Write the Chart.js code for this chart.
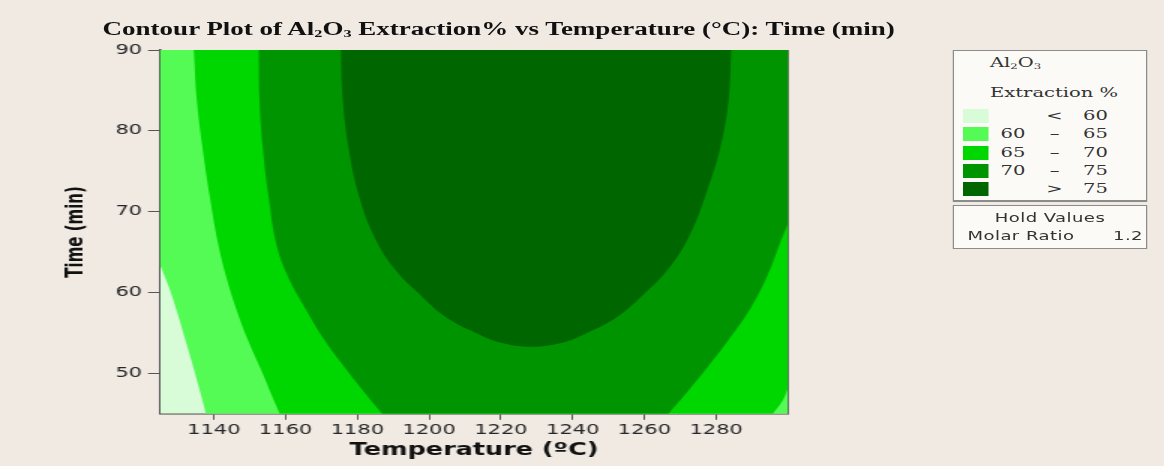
<!DOCTYPE html>
<html lang="en">
<head>
<meta charset="UTF-8" />
<title>Contour Plot of Al2O3 Extraction% vs Temperature</title>
<script src="https://cdn.jsdelivr.net/npm/chart.js"></script>
<style>
	html, body { margin: 0; padding: 0; background: #f0eae3; }
	body { width: 1164px; height: 466px; overflow: hidden; position: relative; }
	/* the source picture is stretched sideways, so draw narrow and widen it */
	#stage {
		position: absolute; left: 0; top: 0;
		width: 776px; height: 466px;
		transform: scaleX(1.5); transform-origin: 0 0;
	}
	#plot { position: absolute; left: 0; top: 0; width: 776px; height: 466px; }
	#title {
		position: absolute; left: 32px; top: 19px; width: 601px;
		text-align: center; white-space: nowrap;
		font: bold 18px "Liberation Serif", serif; line-height: 20px; color: #111;
	}
	sub { font-size: 60%; line-height: 0; vertical-align: -2px; }
	.box {
		position: absolute; left: 635px; width: 130px; box-sizing: border-box;
		background: #fbfaf7; border: 1px solid #8c8c8c; color: #333;
	}
	.box div, .box span { position: absolute; white-space: nowrap; }
	.serif { font: 13px "DejaVu Serif", serif; line-height: 16px; }
	.sans { font: 12px "DejaVu Sans", sans-serif; line-height: 16px; letter-spacing: 0.3px; }
	.sw { width: 17px; height: 14px; }
</style>
</head>
<body>
<div id="stage">
	<div id="plot"><canvas id="contour"></canvas></div>
	<div id="title">Contour Plot of Al<sub>2</sub>O<sub>3</sub> Extraction% vs Temperature (°C): Time (min)</div>

	<div class="box" id="levels" style="top: 50px; height: 152px; border-bottom-width: 2px">
		<div class="serif" style="left: 24px; top: 4px">Al<sub>2</sub>O<sub>3</sub></div>
		<div class="serif" style="left: 24px; top: 34px">Extraction %</div>
	</div>
	<div class="box" style="top: 205px; height: 44px">
		<div class="sans" style="left: 0; width: 128px; text-align: center; top: 4px">Hold Values</div>
		<div class="sans" style="left: 9px; top: 22px" id="holdName"></div>
		<div class="sans" style="left: 106px; top: 22px" id="holdValue"></div>
	</div>
</div>

<script>
	// axes
	const xMin = 1125, xMax = 1300; // Temperature (ºC)
	const yMin = 45, yMax = 90; // Time (min)
	const xTicks = [1140, 1160, 1180, 1200, 1220, 1240, 1260, 1280];
	const yTicks = [50, 60, 70, 80, 90];

	// contour lines, [temperature, time]
	const line60 = [[1125, 63.4], [1127.6, 60.5], [1129.8, 57.5], [1131.8, 54.5], [1133.8, 51.5], [1135.8, 48.3], [1137.8, 45]];
	const line65Left = [[1134.4, 90], [1135.2, 84], [1136.8, 78], [1138.8, 72], [1141.2, 66], [1143.4, 62], [1146.2, 58],
		[1149.6, 54], [1153.6, 50], [1156.4, 47], [1158.4, 45]];
	const line65Right = [[1295.8, 45], [1298.6, 46.7], [1300, 48.2]];
	const line70Left = [[1152.5, 90], [1152.7, 84], [1153.6, 78], [1155.2, 72], [1157.4, 66], [1160.6, 62], [1165.5, 58],
		[1171, 54], [1176, 51], [1181.3, 48], [1186.9, 45]];
	const line70Right = [[1266.7, 45], [1272.5, 48], [1278, 51], [1283.2, 54], [1289.5, 58], [1294.2, 62], [1297.7, 66], [1300, 68.5]];
	const line75 = [[1175.4, 90], [1175.9, 84], [1177.5, 78], [1180.4, 72], [1184.6, 67], [1190.2, 63], [1196.8, 60],
		[1204.5, 57], [1213, 55], [1220, 53.8], [1228.5, 53.3], [1237, 53.8], [1244, 55], [1252.5, 57], [1260.3, 60],
		[1266.8, 63], [1272.5, 67], [1277, 72], [1281.2, 78], [1283.5, 84], [1284.2, 90]];

	// legend
	const levelCuts = [60, 65, 70, 75];
	const levelColors = ["#d8fcd8", "#55fb55", "#00d600", "#009500", "#006600"];
	const holdName = "Molar Ratio";
	const holdValue = 1.2;

	// repeat the end points of every piece so the joins stay sharp with tension on
	function shape(...parts) {
		const out = [];
		parts.forEach((part) => {
			const p = part.map(([x, y]) => ({ x, y }));
			out.push(p[0], ...p, p[p.length - 1]);
		});
		return out;
	}

	const regions = [
		shape(line75),
		shape(line70Left, line70Right, [[xMax, yMax]]),
		shape(line65Left, line65Right, [[xMax, yMax]]),
		shape([[xMin, yMax]], [[xMax, yMax]], [[xMax, yMin]], [...line60].reverse()),
		shape([[xMin, yMin]], [[xMin, yMax]], [[xMax, yMax]], [[xMax, yMin]]),
	];

	// darkest first, it is drawn on top
	const datasets = regions.map((data, i) => ({
		data: data,
		backgroundColor: levelColors[levelColors.length - 1 - i],
		fill: "shape",
		showLine: true,
		tension: 0.4,
		borderWidth: 0,
		pointRadius: 0,
	}));

	const tickFont = { family: "DejaVu Sans", size: 14 };

	new Chart(document.getElementById("contour"), {
		type: "scatter",
		data: { datasets: datasets },
		options: {
			responsive: true,
			maintainAspectRatio: false,
			animation: false,
			events: [],
			layout: { padding: { left: 30, right: 250.7, top: 50, bottom: 0 } },
			plugins: { legend: { display: false }, tooltip: { enabled: false } },
			scales: {
				x: {
					type: "linear",
					min: xMin,
					max: xMax,
					z: 1,
					afterBuildTicks: (axis) => {
						axis.ticks = xTicks.map((v) => ({ value: v }));
					},
					ticks: { color: "#262626", font: tickFont, padding: 2, autoSkip: false, maxRotation: 0, callback: (v) => String(v) },
					grid: { drawOnChartArea: false, tickLength: 6, color: "#555" },
					border: { color: "#444", width: 1.5 },
					title: {
						display: true,
						text: "Temperature (ºC)",
						color: "#111",
						font: { family: "DejaVu Sans", size: 17, weight: "bold" },
						padding: { top: 0, bottom: 5 },
					},
				},
				y: {
					type: "linear",
					min: yMin,
					max: yMax,
					z: 1,
					afterBuildTicks: (axis) => {
						axis.ticks = yTicks.map((v) => ({ value: v }));
					},
					ticks: { color: "#262626", font: tickFont, padding: 4, callback: (v) => String(v) },
					grid: { drawOnChartArea: false, tickLength: 8, color: "#555" },
					border: { color: "#444", width: 1.5 },
					title: {
						display: true,
						text: "Time (min)",
						color: "#111",
						font: { family: "DejaVu Sans", size: 15, weight: "bold" },
						padding: { top: 11.7, bottom: 13.2 },
					},
				},
				x2: {
					type: "linear",
					position: "top",
					min: xMin,
					max: xMax,
					z: 1,
					ticks: { display: false },
					grid: { drawOnChartArea: false, drawTicks: false },
					border: { color: "#555", width: 1 },
				},
				y2: {
					type: "linear",
					position: "right",
					min: yMin,
					max: yMax,
					z: 1,
					ticks: { display: false },
					grid: { drawOnChartArea: false, drawTicks: false },
					border: { color: "#555", width: 1 },
				},
			},
		},
	});

	// legend rows: < 60, 60 - 65, ..., > 75
	const levels = document.getElementById("levels");
	levelColors.forEach((color, i) => {
		let cells;
		if (i === 0) cells = ["", "<", levelCuts[0]];
		else if (i === levelCuts.length) cells = ["", ">", levelCuts[i - 1]];
		else cells = [levelCuts[i - 1], "–", levelCuts[i]];
		const top = 58 + i * 18.3;
		levels.insertAdjacentHTML(
			"beforeend",
			`<span class="sw" style="left: 6px; top: ${top}px; background: ${color}"></span>
			<span class="serif" style="left: 31px; top: ${top - 1}px">${cells[0]}</span>
			<span class="serif" style="left: 59px; width: 16px; text-align: center; top: ${top - 1}px">${cells[1]}</span>
			<span class="serif" style="left: 86px; top: ${top - 1}px">${cells[2]}</span>`
		);
	});
	document.getElementById("holdName").textContent = holdName;
	document.getElementById("holdValue").textContent = holdValue.toFixed(1);
</script>
</body>
</html>
